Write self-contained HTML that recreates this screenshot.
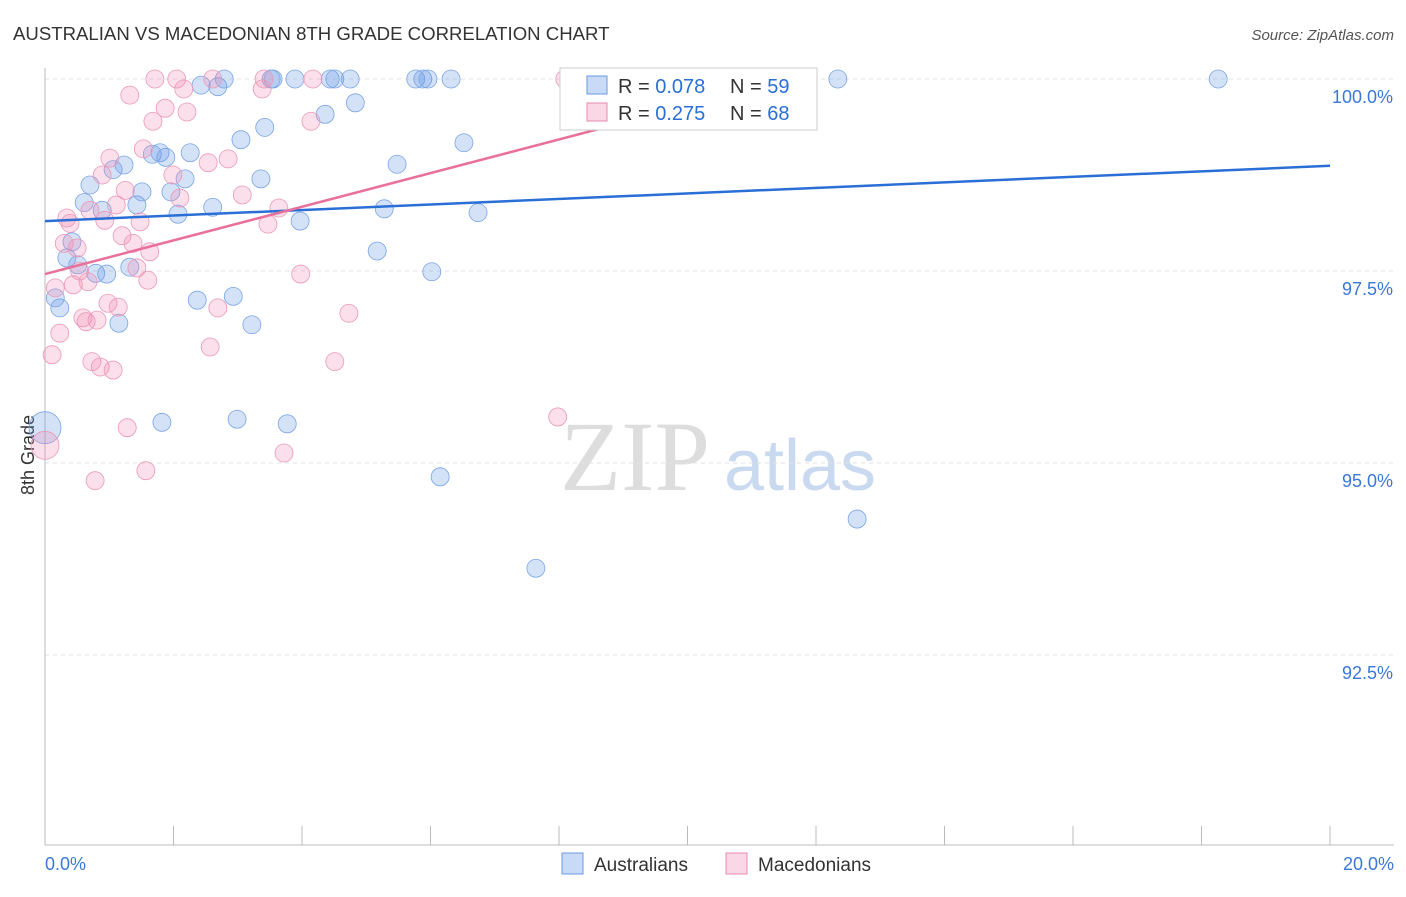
<!DOCTYPE html>
<html><head><meta charset="utf-8"><style>
body{margin:0;background:#fff;font-family:"Liberation Sans",sans-serif}
</style></head><body>
<svg id="c" width="1406" height="892" xmlns="http://www.w3.org/2000/svg">
<text x="13" y="40" font-size="18.6" fill="#333">AUSTRALIAN VS MACEDONIAN 8TH GRADE CORRELATION CHART</text>
<text x="1394" y="40" font-size="15" fill="#555" font-style="italic" text-anchor="end">Source: ZipAtlas.com</text>
<text x="635" y="490" font-size="100" fill="#ddd" font-family="Liberation Serif" text-anchor="middle">ZIP</text>
<text x="800" y="490" font-size="72" fill="#c9d9f0" text-anchor="middle">atlas</text>
<text transform="translate(34,455) rotate(-90)" font-size="18" fill="#333" text-anchor="middle">8th Grade</text>
<g id="grid"></g><g id="pts"></g><g id="lines"></g>
<g>
<rect x="560" y="68" width="257" height="62" fill="#fff" stroke="#ccc"/>
<rect x="587" y="76" width="20" height="18" fill="rgba(100,150,230,0.35)" stroke="#6a9ae0"/>
<text x="618" y="93" font-size="20" fill="#333">R = <tspan fill="#2a6fd6">0.078</tspan></text>
<text x="730" y="93" font-size="20" fill="#333">N = <tspan fill="#2a6fd6">59</tspan></text>
<rect x="587" y="103" width="20" height="18" fill="rgba(240,140,180,0.35)" stroke="#e88ab0"/>
<text x="618" y="120" font-size="20" fill="#333">R = <tspan fill="#2a6fd6">0.275</tspan></text>
<text x="730" y="120" font-size="20" fill="#333">N = <tspan fill="#2a6fd6">68</tspan></text>
</g>
<g>
<rect x="562" y="853" width="21" height="21" fill="rgba(100,150,230,0.35)" stroke="#6a9ae0"/>
<text x="594" y="871" font-size="19" fill="#333">Australians</text>
<rect x="726" y="853" width="21" height="21" fill="rgba(240,140,180,0.35)" stroke="#e88ab0"/>
<text x="758" y="871" font-size="19" fill="#333">Macedonians</text>
</g>
</svg>
<script>
const yTicks=[100,97.5,95,92.5];
const yTickLabels=["100.0%","97.5%","95.0%","92.5%"];
const xEndLabels=["0.0%","20.0%"];
const ausX=[0,.23,.16,.34,.42,.51,.61,.70,.79,.89,.96,1.06,1.15,1.23,1.32,1.43,1.51,1.67,1.79,1.88,1.96,2.07,2.18,2.26,1.82,2.37,2.43,2.61,2.69,2.79,2.93,2.99,3.05,3.22,3.36,3.42,3.52,3.55,3.77,3.89,3.97,4.36,4.44,4.51,4.75,4.83,5.17,5.28,5.48,5.77,5.88,5.96,6.02,6.15,6.32,6.52,6.74,7.64,12.34,12.64,18.26];
const ausY=[95.46,97.02,97.15,97.67,97.88,97.58,98.39,98.62,97.47,98.29,97.46,98.82,96.82,98.88,97.55,98.36,98.53,99.02,99.04,98.98,98.53,98.24,98.70,99.04,95.53,97.12,99.92,98.33,99.90,100,97.17,95.57,99.21,96.80,98.70,99.37,100,100,95.51,100,98.15,99.54,100,100,100,99.69,97.76,98.31,98.89,100,100,100,97.49,94.82,100,99.17,98.26,93.63,100,94.27,100];
const macX=[0,.11,.16,.23,.30,.34,.39,.44,.50,.54,.59,.64,.67,.70,.73,.78,.81,.86,.89,.93,.98,1.01,1.06,1.11,1.14,1.20,1.25,1.28,1.32,1.37,1.43,1.48,1.53,1.57,1.60,1.63,1.68,1.71,1.87,1.99,2.05,2.10,2.16,2.21,2.54,2.57,2.61,2.69,2.85,3.07,3.38,3.41,3.47,3.64,3.72,3.98,4.14,4.17,4.51,4.73,7.98,8.09,8.25];
const macY=[95.23,96.41,97.28,96.69,97.86,98.19,98.12,97.32,97.80,97.50,96.89,96.84,97.36,98.29,96.32,94.77,96.86,96.25,98.75,98.16,97.08,98.97,96.21,98.36,97.03,97.96,98.55,95.46,99.79,97.86,97.54,98.14,99.09,94.90,97.38,97.75,99.45,100,99.62,98.75,100,98.45,99.87,99.57,98.91,96.51,100,97.02,98.96,98.49,99.87,100,98.11,98.32,95.13,97.46,99.45,100,96.32,96.95,95.60,100,100];
const ausTrend=[98.15,98.87]; // y at x=0 and x=20
const macTrend=[97.46,99.66]; const macTrendEndX=10.04;
const X=v=>45+v*64.25, Y=v=>79+(100-v)*76.8;
const NS="http://www.w3.org/2000/svg";
function mk(t,a,p){const e=document.createElementNS(NS,t);for(const k in a)e.setAttribute(k,a[k]);p.appendChild(e);return e;}
const g=document.getElementById('grid');
yTicks.forEach((t,i)=>{
 const l=mk('line',{x1:45,x2:1394,y1:Y(t),y2:Y(t),stroke:'#e2e2e2','stroke-dasharray':'4,4'},g);
 
 
 const tx=mk('text',{x:1393,y:Y(t)+24,'font-size':18,fill:'#3a78d8','text-anchor':'end'},g);
 tx.textContent=yTickLabels[i];
 
 
});
const ax=mk('line',{x1:45,x2:1394,y1:845,y2:845,stroke:'#bbb'},g);


const ay=mk('line',{x1:45,x2:45,y1:68,y2:845,stroke:'#bbb'},g);


for(let i=0;i<=10;i++){const t=mk('line',{x1:X(i*2),x2:X(i*2),y1:845,y2:826,stroke:'#bbb'},g);
 
 }
[[0,'start',45],[20,'end',1394]].forEach((d,i)=>{const t=mk('text',{x:d[2],y:870,'font-size':18,fill:'#3a78d8','text-anchor':d[1]},g);t.textContent=xEndLabels[i];
 
 });
const p=document.getElementById('pts');
function pts(xs,ys,fill,stroke,name,big){xs.forEach((x,i)=>{const r=(i==0)?big:9;
 const c=mk('circle',{cx:X(x),cy:Y(ys[i]),r:r,fill:fill,stroke:stroke,'stroke-width':0.8},p);
 
 });}
pts(ausX,ausY,'rgba(100,150,230,0.28)','#7aa4e4','australian-point',16);
pts(macX,macY,'rgba(240,140,180,0.28)','#eb98b8','macedonian-point',14);
const L=document.getElementById('lines');
const b=mk('line',{x1:X(0),y1:Y(ausTrend[0]),x2:X(20),y2:Y(ausTrend[1]),stroke:'#2a6fd6','stroke-width':2.5},L);


const m=mk('line',{x1:X(0),y1:Y(macTrend[0]),x2:X(macTrendEndX),y2:Y(macTrend[1]),stroke:'#e8709a','stroke-width':2.5},L);


</script>
</body></html>
